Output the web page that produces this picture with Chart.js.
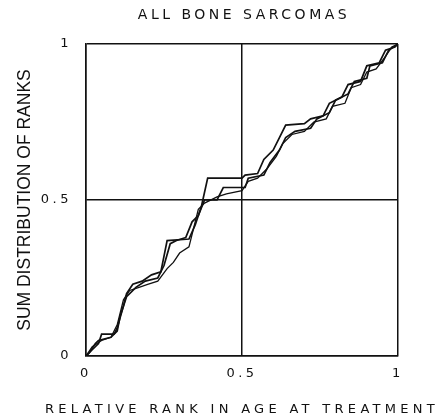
<!DOCTYPE html>
<html>
<head>
<meta charset="utf-8">
<script src="https://cdn.jsdelivr.net/npm/chart.js@4/dist/chart.umd.min.js"></script>
<style>
  html, body { margin: 0; padding: 0; background: #fff; }
  #wrap { width: 442px; height: 420px; }
</style>
</head>
<body>
<div id="wrap"><canvas id="c" width="442" height="420"></canvas></div>
<script>
// ---- data ----
const titleText = "ALL BONE SARCOMAS";
const xLabel = "RELATIVE RANK IN AGE AT TREATMENT";
const yLabel = "SUM DISTRIBUTION OF RANKS";
const tickValues = [0, 0.5, 1];

const s1x = [0,0.02,0.04,0.05,0.09,0.10,0.12,0.13,0.15,0.18,0.21,0.24,0.25,0.26,0.33,0.35,0.37,0.39,0.50,0.51,0.55,0.57,0.60,0.62,0.64,0.70,0.72,0.76,0.78,0.82,0.84,0.88,0.90,0.94,0.96,0.99,1];
const s1y = [0,0.02,0.04,0.07,0.07,0.09,0.16,0.20,0.23,0.24,0.26,0.27,0.32,0.37,0.375,0.42,0.48,0.57,0.57,0.58,0.585,0.63,0.66,0.70,0.74,0.745,0.76,0.77,0.81,0.83,0.87,0.88,0.93,0.94,0.98,0.99,1];

const s2x = [0,0.01,0.03,0.04,0.08,0.10,0.11,0.13,0.16,0.19,0.23,0.25,0.27,0.29,0.32,0.34,0.36,0.38,0.42,0.44,0.51,0.52,0.57,0.59,0.62,0.64,0.67,0.72,0.74,0.78,0.80,0.84,0.86,0.90,0.91,0.95,0.97,1];
const s2y = [0,0.01,0.04,0.05,0.06,0.08,0.13,0.19,0.22,0.24,0.25,0.29,0.36,0.37,0.38,0.43,0.45,0.50,0.50,0.54,0.54,0.57,0.58,0.62,0.66,0.70,0.72,0.73,0.76,0.78,0.82,0.84,0.88,0.89,0.93,0.94,0.98,1];

const s3x = [0,0.02,0.05,0.08,0.10,0.12,0.14,0.17,0.20,0.23,0.26,0.28,0.30,0.33,0.36,0.38,0.42,0.45,0.50,0.52,0.55,0.58,0.61,0.63,0.66,0.70,0.73,0.77,0.79,0.83,0.85,0.88,0.90,0.93,0.96,0.98,1];
const s3y = [0,0.03,0.05,0.06,0.10,0.18,0.21,0.22,0.23,0.24,0.28,0.30,0.33,0.35,0.47,0.49,0.51,0.52,0.53,0.56,0.57,0.60,0.64,0.68,0.71,0.72,0.75,0.76,0.80,0.81,0.86,0.87,0.91,0.92,0.96,0.99,1];

const toPts = (xs, ys) => xs.map((x, i) => ({x: x, y: ys[i]}));

const spacingPlugin = {
  id: 'spacing',
  beforeDraw(chart) {
    chart.ctx.letterSpacing = '3.5px';
    // centre the title over the plot area
    if (chart.titleBlock) {
      chart.titleBlock.left = chart.chartArea.left + 2;
      chart.titleBlock.right = chart.chartArea.right + 2;
      chart.titleBlock.width = chart.titleBlock.right - chart.titleBlock.left;
    }
    const ys = chart.scales.y;
    if (ys && !ys._patched) {
      const orig = ys.drawTitle;
      ys.drawTitle = function() {
        const ctx = this.ctx;
        const prev = ctx.letterSpacing;
        ctx.letterSpacing = '0px';
        orig.apply(this, arguments);
        ctx.letterSpacing = prev;
      };
      ys._patched = true;
    }
    const xs = chart.scales.x;
    if (xs && !xs._patched) {
      xs.drawTitle = function() {
        const ctx = this.ctx;
        const t = this.options.title;
        const size = t.font.size, lh = size * 1.2;
        ctx.save();
        ctx.font = size + 'px "' + t.font.family + '"';
        ctx.letterSpacing = '4.3px';
        ctx.fillStyle = t.color;
        ctx.textAlign = 'center';
        ctx.textBaseline = 'middle';
        ctx.fillText(t.text, (this.left + this.right) / 2 + 0, this.bottom - t.padding.bottom - lh / 2);
        ctx.restore();
      };
      xs._patched = true;
    }
  }
};

const lineStyle = {borderColor: '#111', backgroundColor: '#111', pointRadius: 0, tension: 0, fill: false};

new Chart(document.getElementById('c'), {
  type: 'line',
  data: {
    datasets: [
      Object.assign({data: toPts(s1x, s1y), borderWidth: 1.7}, lineStyle),
      Object.assign({data: toPts(s2x, s2y), borderWidth: 1.7}, lineStyle),
      Object.assign({data: toPts(s3x, s3y), borderWidth: 1.3}, lineStyle)
    ]
  },
  options: {
    responsive: false,
    animation: false,
    layout: {padding: {left: 0, right: 44, top: 0, bottom: 0}},
    plugins: {
      legend: {display: false},
      tooltip: {enabled: false},
      title: {
        display: true,
        text: titleText,
        color: '#111',
        font: {family: 'DejaVu Sans', size: 14, weight: 'normal', lineHeight: 1.2},
        padding: {top: 7, bottom: 20.2}
      }
    },
    scales: {
      x: {
        type: 'linear', min: 0, max: 1,
        afterBuildTicks(s) { s.ticks = tickValues.map(v => ({value: v})); },
        afterFit(s) { s.height = 64; },
        grid: {color: '#111', lineWidth: 1.5, drawTicks: false},
        border: {color: '#111', width: 1.5},
        ticks: {color: '#111', padding: 10, maxRotation: 0, font: {family: 'DejaVu Sans', size: 13},
                callback: v => String(v)},
        title: {display: true, text: xLabel, color: '#111', padding: {top: 0, bottom: 2.2},
                font: {family: 'DejaVu Sans', size: 13, lineHeight: 1.2}}
      },
      y: {
        type: 'linear', min: 0, max: 1,
        afterBuildTicks(s) { s.ticks = tickValues.map(v => ({value: v})); },
        afterFit(s) { s.width = 86; },
        grid: {color: '#111', lineWidth: 1.5, drawTicks: false},
        border: {color: '#111', width: 1.5},
        ticks: {color: '#111', padding: 14, font: {family: 'DejaVu Sans', size: 13},
                callback: v => String(v)},
        title: {display: true, text: yLabel, color: '#111', padding: {top: 15, bottom: 0},
                font: {family: 'Liberation Sans', size: 17.5, lineHeight: 1.2}}
      }
    }
  },
  plugins: [spacingPlugin]
});
</script>
</body>
</html>
